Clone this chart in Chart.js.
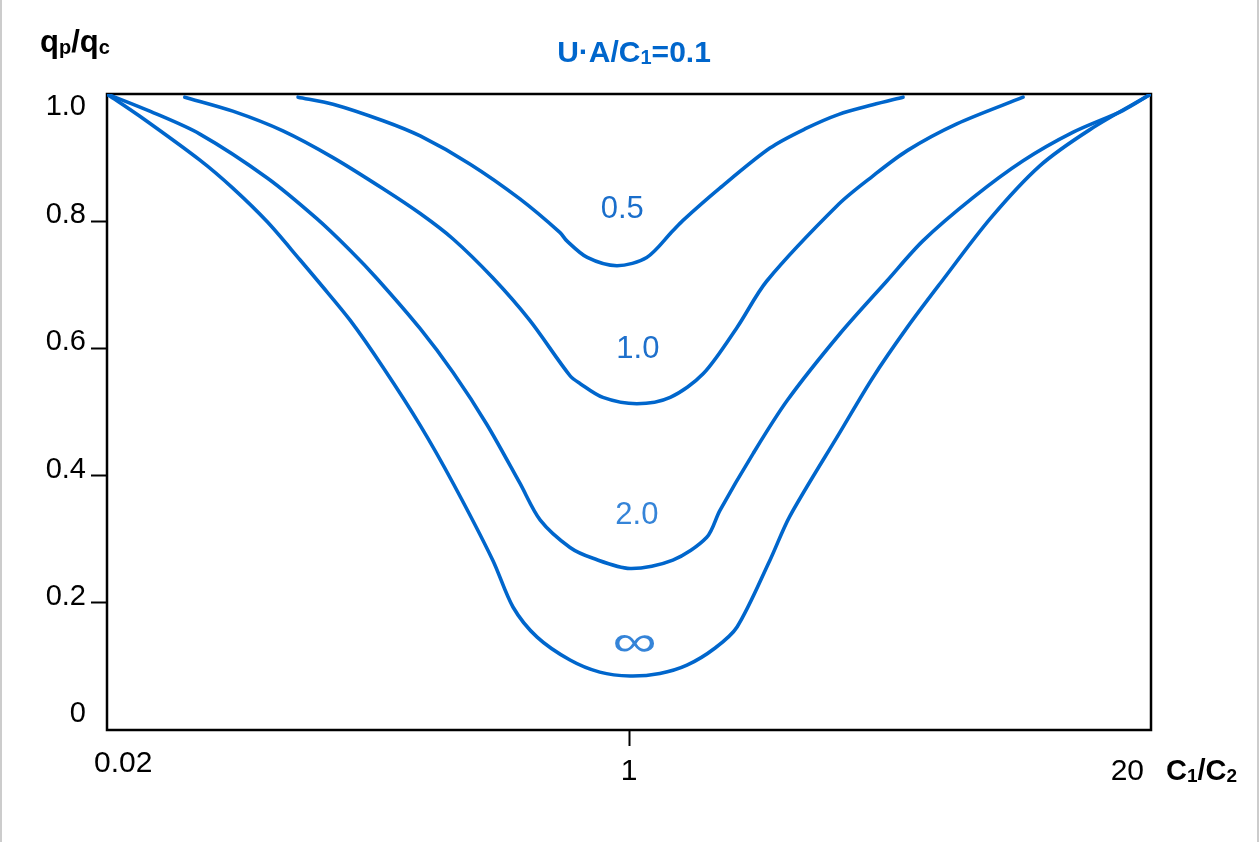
<!DOCTYPE html>
<html>
<head>
<meta charset="utf-8">
<script src="https://cdn.jsdelivr.net/npm/chart.js@4/dist/chart.umd.min.js"></script>
<style>
  html, body { margin: 0; padding: 0; background: #fff; }
  #wrap { width: 1260px; height: 842px; position: relative; }
</style>
</head>
<body>
<div id="wrap"><canvas id="c" width="1260" height="842"></canvas></div>
<script>
// ---- tick labels ----
const xTickValues = [-1, 0, 1];
const xTickLabels = ['0.02', '1', '20'];
const yTickValues = [0, 0.2, 0.4, 0.6, 0.8, 1.0];
const yTickLabels = ['0', '0.2', '0.4', '0.6', '0.8', '1.0'];

// ---- series (x: position on C1/C2 axis, -1 = 0.02, 0 = 1, 1 = 20; y: qp/qc) ----
const seriesNames = ['0.5', '1.0', '2.0', '∞'];

const x05 = [-0.634, -0.567, -0.471, -0.400, -0.305, -0.209, -0.132, -0.119, -0.080, -0.023, 0.034, 0.084, 0.103, 0.174, 0.270, 0.337, 0.402, 0.467, 0.525];
const y05 = [0.995, 0.984, 0.958, 0.934, 0.890, 0.835, 0.782, 0.769, 0.743, 0.730, 0.743, 0.785, 0.801, 0.852, 0.915, 0.945, 0.968, 0.983, 0.995];

const x10 = [-0.851, -0.759, -0.663, -0.567, -0.471, -0.400, -0.337, -0.261, -0.190, -0.113, -0.094, -0.050, 0.015, 0.079, 0.142, 0.207, 0.264, 0.402, 0.467, 0.533, 0.628, 0.755];
const y10 = [0.995, 0.973, 0.942, 0.900, 0.851, 0.812, 0.772, 0.711, 0.644, 0.557, 0.545, 0.523, 0.513, 0.523, 0.560, 0.633, 0.706, 0.827, 0.871, 0.911, 0.953, 0.995];

const x20 = [-1, -0.918, -0.822, -0.693, -0.598, -0.534, -0.483, -0.400, -0.337, -0.272, -0.209, -0.170, -0.113, -0.069, 0.002, 0.084, 0.149, 0.174, 0.238, 0.303, 0.404, 0.494, 0.563, 0.659, 0.755, 0.851, 0.946, 1];
const y20 = [1.0, 0.973, 0.937, 0.868, 0.804, 0.754, 0.710, 0.631, 0.562, 0.480, 0.388, 0.330, 0.287, 0.270, 0.254, 0.267, 0.303, 0.345, 0.435, 0.518, 0.623, 0.706, 0.769, 0.837, 0.895, 0.940, 0.974, 1.0];

const xInf = [-1, -0.937, -0.822, -0.759, -0.693, -0.630, -0.592, -0.534, -0.471, -0.400, -0.337, -0.261, -0.222, -0.176, -0.113, -0.056, 0.002, 0.059, 0.111, 0.165, 0.207, 0.270, 0.308, 0.404, 0.467, 0.533, 0.596, 0.692, 0.787, 0.883, 1];
const yInf = [1.0, 0.965, 0.896, 0.852, 0.799, 0.739, 0.702, 0.644, 0.570, 0.479, 0.388, 0.267, 0.193, 0.146, 0.110, 0.091, 0.085, 0.089, 0.102, 0.129, 0.162, 0.267, 0.336, 0.468, 0.554, 0.633, 0.702, 0.804, 0.887, 0.944, 1.0];

// curve-label anchors (data units)
const labelX = [-0.013, 0.017, 0.015, 0.011];
const labelY = [0.818, 0.598, 0.338, 0.138];

const FONT = '"Liberation Sans", Arial, Helvetica, sans-serif';
const BLUE = '#0066cc';

function pts(xs, ys) { return xs.map((x, i) => ({ x: x, y: ys[i] })); }

function drawRich(ctx, parts, x, y, align, size, subSize, bold, color) {
  const w = bold ? 'bold ' : '';
  let total = 0;
  parts.forEach(p => {
    ctx.font = w + (p.sub ? subSize : size) + 'px ' + FONT;
    p.w = ctx.measureText(p.t).width;
    total += p.w;
  });
  let cx = align === 'center' ? x - total / 2 : (align === 'right' ? x - total : x);
  ctx.fillStyle = color;
  ctx.textAlign = 'left';
  ctx.textBaseline = 'alphabetic';
  parts.forEach(p => {
    ctx.font = w + (p.sub ? subSize : size) + 'px ' + FONT;
    ctx.fillText(p.t, cx, p.sub ? y + 2 : y);
    cx += p.w;
  });
}

const decor = {
  id: 'decor',
  beforeDraw(chart) {
    const ctx = chart.ctx;
    ctx.save();
    ctx.fillStyle = '#fff';
    ctx.fillRect(0, 0, chart.width, chart.height);
    ctx.fillStyle = '#cccccc';
    ctx.fillRect(0, 0, 2, chart.height);
    ctx.fillRect(1257, 0, 2, chart.height);
    ctx.restore();
  },
  beforeDatasetsDraw(chart) {
    const ctx = chart.ctx, a = chart.chartArea;
    ctx.save();
    ctx.strokeStyle = '#000';
    ctx.lineWidth = 2.5;
    ctx.strokeRect(a.left, a.top, a.right - a.left, a.bottom - a.top);
    ctx.restore();
  },
  afterDatasetsDraw(chart) {
    const ctx = chart.ctx, a = chart.chartArea;
    const xs = chart.scales.x, ys = chart.scales.y;
    ctx.save();
    // y tick labels
    ctx.fillStyle = '#000';
    ctx.font = '29px ' + FONT;
    ctx.textAlign = 'right';
    yTickValues.forEach((v, i) => {
      const py = ys.getPixelForValue(v);
      if (v === ys.max) { ctx.textBaseline = 'top'; ctx.fillText(yTickLabels[i], 86, py - 2); }
      else if (v === ys.min) { ctx.textBaseline = 'alphabetic'; ctx.fillText(yTickLabels[i], 86, py - 8); }
      else { ctx.textBaseline = 'alphabetic'; ctx.fillText(yTickLabels[i], 86, py + 2); }
    });
    // x tick labels
    ctx.font = '30px ' + FONT;
    ctx.textBaseline = 'alphabetic';
    xTickValues.forEach((v, i) => {
      const px = xs.getPixelForValue(v);
      if (v === xs.min) { ctx.textAlign = 'left'; ctx.fillText(xTickLabels[i], px - 13, a.bottom + 42); }
      else if (v === xs.max) { ctx.textAlign = 'right'; ctx.fillText(xTickLabels[i], px - 7, a.bottom + 50); }
      else { ctx.textAlign = 'center'; ctx.fillText(xTickLabels[i], px, a.bottom + 50); }
    });
    // curve labels
    const lblColors = ['#1a6ecb', '#1e70cc', '#3584d8', '#3584d8'];
    seriesNames.forEach((n, i) => {
      const px = xs.getPixelForValue(labelX[i]);
      const py = ys.getPixelForValue(labelY[i]);
      ctx.fillStyle = lblColors[i];
      ctx.textAlign = 'center';
      ctx.textBaseline = 'middle';
      if (n === '∞') {
        ctx.save();
        ctx.translate(px, py);
        ctx.scale(1.35, 0.95);
        ctx.font = '46px ' + FONT;
        ctx.fillText(n, 0, 2);
        ctx.restore();
      } else {
        ctx.font = '31px ' + FONT;
        ctx.fillText(n, px, py);
      }
    });
    // axis titles and chart title
    drawRich(ctx, [{t:'q'},{t:'p',sub:true},{t:'/'},{t:'q'},{t:'c',sub:true}], 40, 52, 'left', 31, 20, true, '#000');
    drawRich(ctx, [{t:'C'},{t:'1',sub:true},{t:'/'},{t:'C'},{t:'2',sub:true}], 1166, 780, 'left', 29, 19, true, '#000');
    drawRich(ctx, [{t:'U·A/C'},{t:'1',sub:true},{t:'=0.1'}], 634, 62, 'center', 30, 20, true, BLUE);
    ctx.restore();
  }
};

const lineStyle = {
  borderColor: BLUE,
  borderWidth: 3.6,
  pointRadius: 0,
  fill: false,
  tension: 0.3,
  cubicInterpolationMode: 'default',
  borderJoinStyle: 'round',
  borderCapStyle: 'round'
};

new Chart(document.getElementById('c'), {
  type: 'line',
  data: {
    datasets: [
      Object.assign({ label: seriesNames[0], data: pts(x05, y05) }, lineStyle),
      Object.assign({ label: seriesNames[1], data: pts(x10, y10) }, lineStyle),
      Object.assign({ label: seriesNames[2], data: pts(x20, y20) }, lineStyle),
      Object.assign({ label: seriesNames[3], data: pts(xInf, yInf) }, lineStyle)
    ]
  },
  options: {
    responsive: false,
    animation: false,
    events: [],
    layout: { padding: { left: 0, right: 109, top: 94, bottom: 0 } },
    plugins: { legend: { display: false }, tooltip: { enabled: false }, title: { display: false } },
    scales: {
      x: {
        type: 'linear', min: -1, max: 1,
        afterBuildTicks: s => { s.ticks = xTickValues.map(v => ({ value: v })); },
        afterFit: s => { s.height = 112; },
        border: { display: false },
        grid: {
          drawOnChartArea: false, drawTicks: true, tickLength: 16, tickWidth: 2,
          tickColor: c => (c.tick && c.tick.value === 0) ? '#000' : 'rgba(0,0,0,0)'
        },
        ticks: { display: false }
      },
      y: {
        type: 'linear', min: 0, max: 1,
        afterBuildTicks: s => { s.ticks = yTickValues.map(v => ({ value: v })); },
        afterFit: s => { s.width = 107; },
        border: { display: false },
        grid: {
          drawOnChartArea: false, drawTicks: true, tickLength: 16, tickWidth: 2,
          tickColor: c => (c.tick && c.tick.value > 0 && c.tick.value < 1) ? '#000' : 'rgba(0,0,0,0)'
        },
        ticks: { display: false }
      }
    }
  },
  plugins: [decor]
});
</script>
</body>
</html>
